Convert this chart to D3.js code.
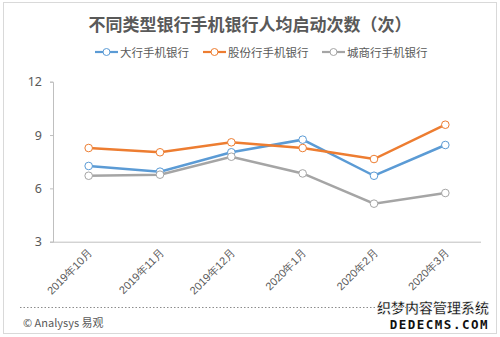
<!DOCTYPE html>
<html><head><meta charset="utf-8">
<script src="https://cdn.jsdelivr.net/npm/d3@7"></script>
<style>body{margin:0;background:#fff}svg{display:block;font-family:"Microsoft YaHei","Noto Sans CJK SC",sans-serif}</style>
</head><body><svg id="c" width="500" height="337"></svg>
<script>
const categories = ["2019年10月","2019年11月","2019年12月","2020年1月","2020年2月","2020年3月"];
const seriesNames = ["大行手机银行","股份行手机银行","城商行手机银行"];
const bigBanks = [7.26, 6.94, 8.03, 8.74, 6.71, 8.44];
const jointStock = [8.27, 8.03, 8.59, 8.27, 7.65, 9.58];
const cityBanks = [6.71, 6.77, 7.78, 6.84, 5.14, 5.74];
const yTicks = [3, 6, 9, 12];
const colors = ["#5b9bd5", "#ed7d31", "#a5a5a5"];
const series = [bigBanks, jointStock, cityBanks];

const svg = d3.select("#c");
svg.append("rect").attr("x",3.5).attr("y",2.5).attr("width",493).attr("height",331)
  .attr("fill","#fff").attr("stroke","#d9d9d9");

svg.append("text").attr("x",250).attr("y",31).attr("text-anchor","middle")
  .attr("font-size",17).attr("font-weight","bold").attr("fill","#595959")
  .text("不同类型银行手机银行人均启动次数（次）");

const x = d3.scalePoint().domain(categories).range([53,481]).padding(0.5);
const y = d3.scaleLinear().domain([3,12]).range([241.7,81.7]);

// legend
const legX = [95, 203, 322];
seriesNames.forEach((n,i)=>{
  const g = svg.append("g").attr("transform",`translate(${legX[i]},52)`);
  g.append("line").attr("x1",0).attr("x2",23).attr("y1",0).attr("y2",0).attr("stroke",colors[i]).attr("stroke-width",2.2);
  g.append("circle").attr("cx",11.5).attr("cy",0).attr("r",3.5).attr("fill","#fff").attr("stroke",colors[i]).attr("stroke-width",1);
  g.append("text").attr("x",25).attr("y",4.5).attr("font-size",11.5).attr("fill","#595959").text(n);
});

// axes
const yAxis = svg.append("g").attr("transform","translate(53,0)")
  .call(d3.axisLeft(y).tickValues(yTicks).tickSize(3).tickPadding(8));
yAxis.select(".domain").attr("stroke","#bfbfbf");
yAxis.selectAll(".tick line").attr("stroke","#bfbfbf");
yAxis.selectAll("text").attr("font-size",12.5).attr("fill","#595959").attr("font-family","Noto Sans, sans-serif");

const xAxis = svg.append("g").attr("transform","translate(0,241.7)")
  .call(d3.axisBottom(x).tickSize(0).tickPadding(0));
xAxis.select(".domain").attr("stroke","#bfbfbf").attr("d","M53,0.5H481");
xAxis.selectAll("text").attr("font-size",11).attr("fill","#595959")
  .attr("text-anchor","end").attr("dy",0)
  .attr("transform","translate(4,12) rotate(-45)");

const line = d3.line().x((d,i)=>x(categories[i])).y(d=>y(d));
series.forEach((s,i)=>{
  svg.append("path").attr("d",line(s)).attr("fill","none").attr("stroke",colors[i]).attr("stroke-width",2.5);
});
series.forEach((s,i)=>{
  svg.selectAll(null).data(s).enter().append("circle")
    .attr("cx",(d,j)=>x(categories[j])).attr("cy",d=>y(d)).attr("r",3.8)
    .attr("fill","#fff").attr("stroke",colors[i]).attr("stroke-width",1);
});

svg.append("line").attr("x1",20).attr("x2",482).attr("y1",307.5).attr("y2",307.5)
  .attr("stroke","#8c8c8c").attr("stroke-dasharray","1.5,2");
svg.append("text").attr("x",23).attr("y",327).attr("font-size",11).attr("fill","#595959").text("© Analysys 易观");

svg.append("text").attr("x",489).attr("y",313).attr("text-anchor","end").attr("font-size",14)
  .attr("font-weight","bold").attr("fill","#111").attr("stroke","#fff").attr("stroke-width",0.5).text("织梦内容管理系统");
svg.append("text").attr("x",489).attr("y",329).attr("text-anchor","end").attr("font-size",12.5)
  .attr("font-weight","bold").attr("fill","#111").attr("letter-spacing",1.5).attr("font-family","DejaVu Sans Mono, monospace").text("DEDECMS.COM");
</script></body></html>
